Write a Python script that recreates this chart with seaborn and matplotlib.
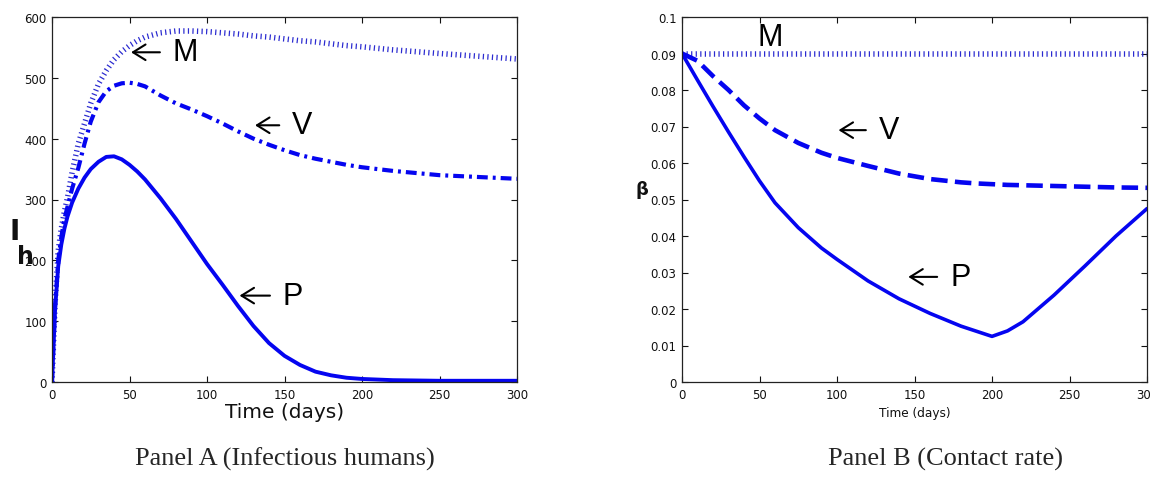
import numpy as np
import pandas as pd
import matplotlib
matplotlib.use("Agg")
import matplotlib.pyplot as plt
import seaborn as sns

# ---------------- data ----------------
# Panel A: infectious humans I_h over time (days)
days_a = [0, 1, 2, 4, 6, 8, 10, 13, 17, 21, 25, 30, 35, 40, 45, 50, 55, 60,
          70, 80, 90, 100, 110, 120, 130, 140, 150, 160, 170, 180, 190, 200,
          220, 250, 300]
ih_P = [0, 60, 120, 190, 226, 252, 272, 295, 318, 336, 350, 362, 370, 371,
        366, 357, 346, 333, 302, 268, 231, 194, 160, 125, 92, 64, 43, 28, 17,
        11, 7, 5, 3, 2, 2]
ih_V = [0, 65, 125, 200, 238, 268, 288, 318, 352, 392, 428, 460, 478, 487,
        491, 492, 490, 486, 471, 458, 448, 437, 425, 412, 400, 390, 381, 373,
        367, 362, 357, 353, 347, 340, 334]
ih_M = [0, 65, 130, 215, 252, 280, 303, 345, 392, 425, 458, 490, 512, 530,
        543, 553, 561, 567, 574, 577, 577, 576, 574, 572, 569, 567, 564, 561,
        559, 556, 553, 551, 546, 540, 531]

# Panel B: contact rate beta over time (days)
days_b = [0, 10, 20, 30, 40, 50, 60, 75, 90, 100, 120, 140, 160, 180, 190,
          200, 210, 220, 240, 260, 280, 300]
beta_P = [0.0900, 0.0827, 0.0755, 0.0685, 0.0617, 0.0551, 0.0491, 0.0423,
          0.0367, 0.0336, 0.0277, 0.0228, 0.0188, 0.0153, 0.0139, 0.0125,
          0.0140, 0.0165, 0.0238, 0.0318, 0.0400, 0.0475]
beta_V = [0.0900, 0.0880, 0.0838, 0.0800, 0.0758, 0.0722, 0.0690, 0.0655,
          0.0628, 0.0614, 0.0592, 0.0571, 0.0556, 0.0547, 0.0544, 0.0542,
          0.0540, 0.0539, 0.0537, 0.0535, 0.0533, 0.0532]
beta_M = [0.09] * len(days_b)

xticks_days = [0, 50, 100, 150, 200, 250, 300]
yticks_a = [0, 100, 200, 300, 400, 500, 600]
yticks_b = [0, 0.01, 0.02, 0.03, 0.04, 0.05, 0.06, 0.07, 0.08, 0.09, 0.1]
yticklabels_b = ["0", "0.01", "0.02", "0.03", "0.04", "0.05", "0.06",
                 "0.07", "0.08", "0.09", "0.1"]

captions = ["Panel A (Infectious humans)", "Panel B (Contact rate)"]

# ---------------- styling ----------------
sns.set_style("ticks")
plt.rcParams["font.family"] = ["DejaVu Sans"]
plt.rcParams["axes.edgecolor"] = "#222222"
plt.rcParams["axes.linewidth"] = 0.9

BLUE = "#0505f0"
DOT_BLUE = "#2a2ad0"

fig = plt.figure(figsize=(11.51, 4.81), dpi=100)
W, H = 1151, 481
ax_a = fig.add_axes([52 / W, (H - 383) / H, 465 / W, 365 / H])
ax_b = fig.add_axes([682 / W, (H - 383) / H, 465 / W, 365 / H])

dfa = pd.DataFrame({"t": days_a, "P": ih_P, "V": ih_V, "M": ih_M})
dfb = pd.DataFrame({"t": days_b, "P": beta_P, "V": beta_V, "M": beta_M})

# Panel A curves
sns.lineplot(data=dfa, x="t", y="M", ax=ax_a, color=DOT_BLUE, linewidth=4.0,
             linestyle=(0, (0.22, 0.6)), dash_capstyle="butt")
sns.lineplot(data=dfa, x="t", y="V", ax=ax_a, color=BLUE, linewidth=3.0,
             linestyle=(0, (2.6, 1.2, 0.7, 1.2)), dash_capstyle="butt")
sns.lineplot(data=dfa, x="t", y="P", ax=ax_a, color=BLUE, linewidth=2.8)

# Panel B curves
sns.lineplot(data=dfb, x="t", y="M", ax=ax_b, color=DOT_BLUE, linewidth=4.0,
             linestyle=(0, (0.22, 0.6)), dash_capstyle="butt")
sns.lineplot(data=dfb, x="t", y="V", ax=ax_b, color=BLUE, linewidth=3.3,
             linestyle=(0, (3.6, 1.6)), dash_capstyle="butt")
sns.lineplot(data=dfb, x="t", y="P", ax=ax_b, color=BLUE, linewidth=2.6)

for ax in (ax_a, ax_b):
    ax.set_xlim(0, 300)
    ax.set_xticks(xticks_days)
    ax.tick_params(direction="in", top=True, right=True, length=4.5,
                   width=0.8, labelsize=8.5, colors="#111111", pad=4)
    for s in ax.spines.values():
        s.set_visible(True)

ax_a.set_ylim(0, 600)
ax_a.set_yticks(yticks_a)
ax_b.set_ylim(0, 0.1)
ax_b.set_yticks(yticks_b)
ax_b.set_yticklabels(yticklabels_b)

# axis labels
ax_a.set_xlabel("Time (days)", fontsize=14.5, labelpad=1, color="#111111")
ax_b.set_xlabel("Time (days)", fontsize=8.7, labelpad=4, color="#111111")

ax_a.set_ylabel("I", rotation=0, fontsize=20, fontweight="bold",
                ha="center", va="center", color="#111111")
ax_a.yaxis.set_label_coords(-0.081, 0.414)
ax_a.text(-0.058, 0.345, "h", transform=ax_a.transAxes, fontsize=17,
          fontweight="bold", ha="center", va="center", color="#111111")

ax_b.set_ylabel("β", rotation=0, fontsize=13, fontweight="bold",
                ha="center", va="center", color="#111111")
ax_b.yaxis.set_label_coords(-0.086, 0.529)

# curve annotations: big letter with a thin left-pointing arrow
letter_font = dict(fontsize=22, family=["Liberation Sans", "DejaVu Sans"],
                   va="center", ha="left", color="black")
arrow_props = dict(arrowstyle="->,head_length=0.45,head_width=0.28",
                   lw=1.5, color="black", shrinkA=7, shrinkB=0,
                   mutation_scale=20)


def label_curve(ax, letter, tip_x, letter_x, y):
    ax.annotate(letter, xy=(tip_x, y), xytext=(letter_x, y),
                textcoords="data", arrowprops=arrow_props, **letter_font)


label_curve(ax_a, "M", 51, 78, 542)
label_curve(ax_a, "V", 131, 155, 422)
label_curve(ax_a, "P", 121, 149, 142)

ax_b.text(49, 0.0945, "M", **letter_font)
label_curve(ax_b, "V", 101, 127, 0.069)
label_curve(ax_b, "P", 146, 173, 0.0288)

# panel captions
fig.text(285 / W, 1 - 459 / H, captions[0], ha="center", va="center",
         fontsize=19, family=["Liberation Serif", "DejaVu Serif"])
fig.text(946 / W, 1 - 459 / H, captions[1], ha="center", va="center",
         fontsize=19, family=["Liberation Serif", "DejaVu Serif"])

fig.savefig("out.png", dpi=100)
